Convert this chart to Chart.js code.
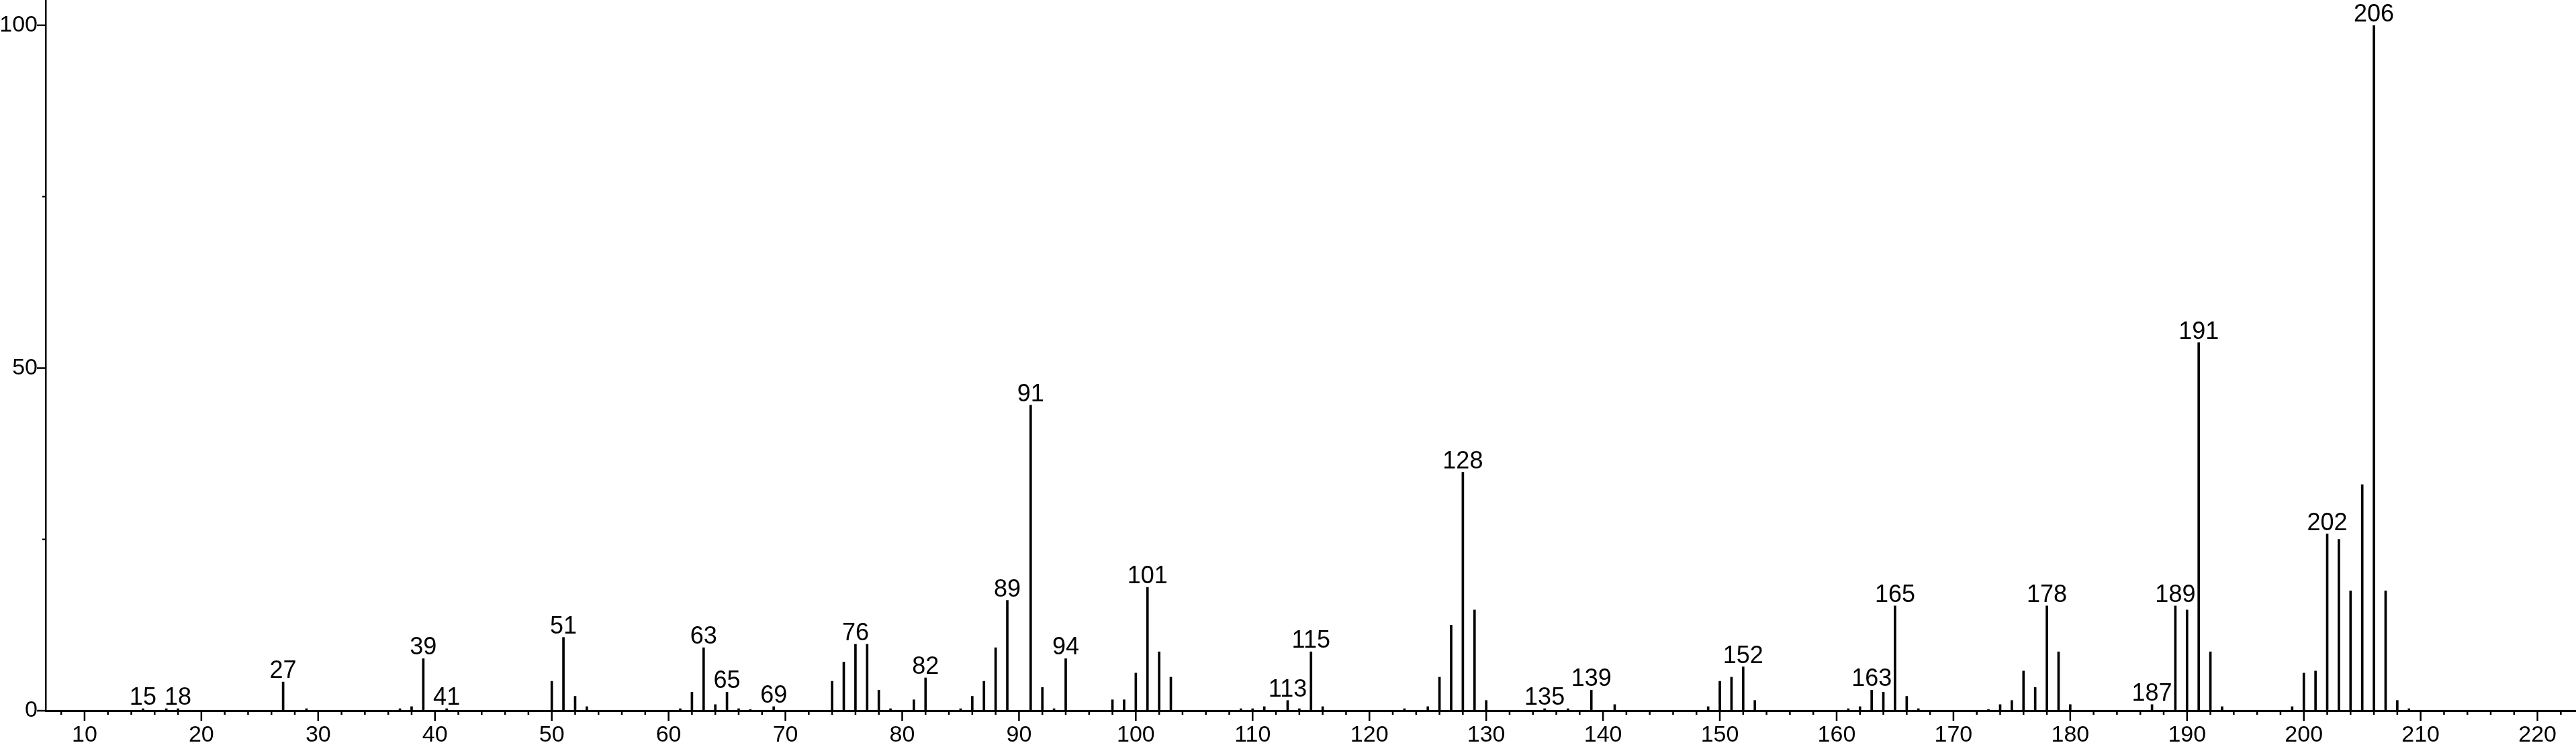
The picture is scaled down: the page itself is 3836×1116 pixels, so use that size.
<!DOCTYPE html>
<html>
<head>
<meta charset="utf-8">
<script src="https://cdn.jsdelivr.net/npm/chart.js@4/dist/chart.umd.min.js"></script>
<style>
  html, body { margin: 0; padding: 0; background: #fff; }
  canvas { display: block; }
</style>
</head>
<body>
<canvas id="spectrum" width="3836" height="1116"></canvas>
<script>
// m/z values and relative intensities (%)
const mz = [15, 17, 18, 27, 29, 37, 38, 39, 41, 50, 51, 52, 53, 61, 62, 63, 64, 65, 66, 67, 69,
  74, 75, 76, 77, 78, 79, 81, 82, 85, 86, 87, 88, 89, 91, 92, 93, 94, 98, 99, 100, 101, 102, 103,
  109, 110, 111, 113, 114, 115, 116, 123, 125, 126, 127, 128, 129, 130, 135, 137, 139, 141,
  149, 150, 151, 152, 153, 161, 162, 163, 164, 165, 166, 167, 173, 174, 175, 176, 177, 178, 179, 180,
  187, 189, 190, 191, 192, 193, 199, 200, 201, 202, 203, 204, 205, 206, 207, 208, 209];
const intensity = [0.3, 0.3, 0.3, 4.2, 0.3, 0.3, 0.6, 7.6, 0.3, 4.3, 10.7, 2.1, 0.6, 0.3, 2.7, 9.2, 0.9, 2.7, 0.3, 0.2, 0.6,
  4.3, 7.1, 9.7, 9.7, 3.0, 0.3, 1.6, 4.8, 0.3, 2.1, 4.3, 9.2, 16.1, 44.6, 3.4, 0.3, 7.6, 1.6, 1.6, 5.5, 18.0, 8.6, 4.9,
  0.3, 0.3, 0.6, 1.5, 0.3, 8.6, 0.6, 0.3, 0.6, 4.9, 12.5, 34.8, 14.7, 1.5, 0.3, 0.3, 3.0, 0.9,
  0.6, 4.3, 4.9, 6.4, 1.5, 0.3, 0.6, 3.0, 2.7, 15.3, 2.1, 0.3, 0.2, 0.9, 1.5, 5.8, 3.4, 15.3, 8.6, 0.9,
  0.9, 15.3, 14.7, 53.7, 8.6, 0.6, 0.6, 5.5, 5.8, 25.8, 25.0, 17.5, 33.0, 100, 17.5, 1.5, 0.3];
// peaks that carry an m/z label
const labeledPeaks = [15, 18, 27, 39, 41, 51, 63, 65, 69, 76, 82, 89, 91, 94, 101, 113, 115, 128,
  135, 139, 152, 163, 165, 178, 187, 189, 191, 202, 206];
const yTicks = [0, 25, 50, 75, 100];
const yLabels = [0, 50, 100];

const FONT = '"Liberation Sans", Arial, Helvetica, sans-serif';

// tick marks on both axes (long on labelled values, short otherwise)
const axisTicks = {
  id: 'axisTicks',
  afterDraw(chart) {
    const { ctx, chartArea, scales } = chart;
    ctx.save();
    ctx.strokeStyle = '#000';
    ctx.lineWidth = 2.5;
    ctx.beginPath();
    for (let v = 8; v <= 222; v += 2) {
      const px = scales.x.getPixelForValue(v);
      const len = v % 10 === 0 ? 15 : 6;
      ctx.moveTo(px, chartArea.bottom);
      ctx.lineTo(px, chartArea.bottom + len);
    }
    yTicks.forEach((v) => {
      const py = scales.y.getPixelForValue(v);
      const len = yLabels.includes(v) ? 13 : 5;
      ctx.moveTo(chartArea.left - len, py);
      ctx.lineTo(chartArea.left, py);
    });
    ctx.stroke();
    ctx.restore();
  },
};

// m/z numbers above the labelled peaks
const peakLabels = {
  id: 'peakLabels',
  afterDatasetsDraw(chart) {
    const { ctx } = chart;
    const meta = chart.getDatasetMeta(0);
    ctx.save();
    ctx.fillStyle = '#000';
    ctx.font = `36px ${FONT}`;
    ctx.textAlign = 'center';
    ctx.textBaseline = 'alphabetic';
    mz.forEach((m, i) => {
      if (!labeledPeaks.includes(m)) return;
      const el = meta.data[i];
      ctx.fillText(String(m), el.x, el.y - 6);
    });
    ctx.restore();
  },
};

new Chart(document.getElementById('spectrum'), {
  type: 'bar',
  data: {
    datasets: [{
      data: mz.map((m, i) => ({ x: m, y: intensity[i] })),
      backgroundColor: '#000',
      borderWidth: 0,
      barThickness: 3,
      grouped: false,
    }],
  },
  options: {
    responsive: false,
    animation: false,
    devicePixelRatio: 1,
    layout: { padding: 0 },
    plugins: {
      legend: { display: false },
      tooltip: { enabled: false },
    },
    scales: {
      x: {
        type: 'linear',
        offset: false,
        min: 6.67,
        max: 223.3,
        grid: { display: false, drawTicks: false, offset: false },
        border: { display: true, color: '#000', width: 3 },
        ticks: {
          stepSize: 10,
          includeBounds: false,
          autoSkip: false,
          maxRotation: 0,
          padding: 16,
          color: '#000',
          font: { size: 34, family: FONT },
          callback: (v) => (v % 10 === 0 ? String(v) : ''),
        },
        afterFit: (scale) => {
          scale.height = 57;
          scale.paddingLeft = 0;
          scale.paddingRight = 0;
        },
      },
      y: {
        min: 0,
        max: 103.7,
        grid: { display: false, drawTicks: false },
        border: { display: true, color: '#000', width: 2.5 },
        ticks: {
          stepSize: 50,
          includeBounds: false,
          padding: 12,
          color: '#000',
          font: { size: 34, family: FONT },
        },
        afterFit: (scale) => {
          scale.width = 68;
          scale.paddingTop = 0;
          scale.paddingBottom = 0;
        },
      },
    },
  },
  plugins: [axisTicks, peakLabels],
});
</script>
</body>
</html>
